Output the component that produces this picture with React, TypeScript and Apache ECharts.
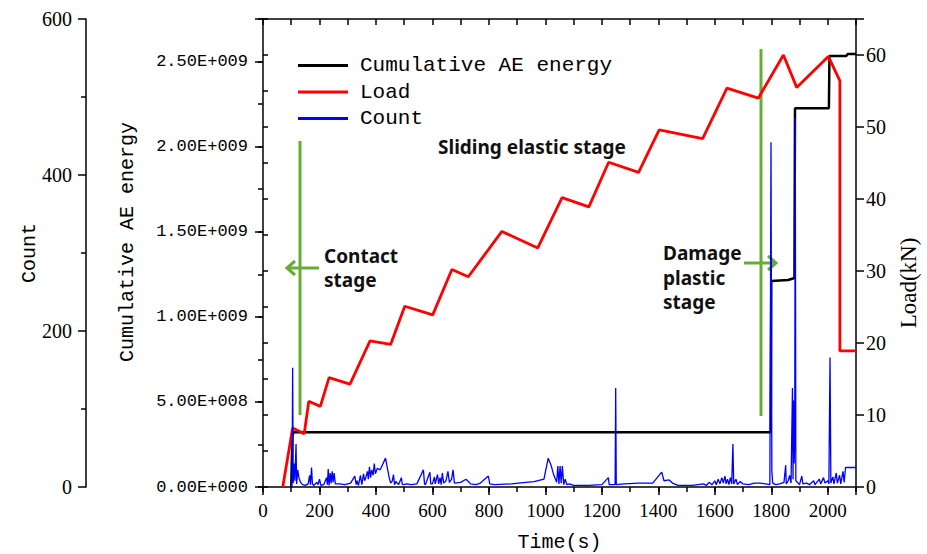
import React, { useEffect, useRef } from 'react';
import * as echarts from 'echarts';

// Load (kN) vs time (s)
const loadTime = [70, 105, 146, 162, 203, 234, 308, 379, 452, 502, 601, 669, 727, 846, 973, 1059, 1154, 1224, 1330, 1403, 1557, 1643, 1754, 1843, 1890, 2002, 2043, 2043, 2100];
const loadKN = [0, 8.2, 7.4, 11.9, 11.2, 15.2, 14.3, 20.3, 19.8, 25.1, 23.9, 30.2, 29.2, 35.5, 33.2, 40.2, 38.9, 45.1, 43.7, 49.6, 48.4, 55.4, 54.0, 60.0, 55.5, 59.8, 56.4, 18.9, 18.9];

// Cumulative AE energy vs time
const energyTime = [100, 104, 108, 1798, 1800, 1860, 1882, 1884, 2004, 2006, 2066, 2070, 2100];
const energyValue = [0, 3.0e8, 3.21e8, 3.21e8, 1.21e9, 1.216e9, 1.228e9, 2.225e9, 2.225e9, 2.533e9, 2.533e9, 2.544e9, 2.544e9];

// AE count vs time
const countTime = [100, 103, 105, 107, 110, 113, 117, 119, 123, 127, 133, 140, 150, 160, 165, 168, 172, 175, 180, 190, 195, 200, 205, 215, 225, 228, 231, 234, 238, 241, 245, 248, 252, 256, 270, 290, 310, 325, 330, 333, 338, 345, 350, 356, 360, 364, 370, 373, 377, 381, 385, 390, 394, 398, 405, 415, 434, 440, 447, 452, 458, 462, 466, 470, 480, 490, 493, 497, 510, 525, 545, 568, 572, 575, 591, 594, 600, 607, 610, 618, 622, 627, 631, 635, 640, 648, 655, 660, 668, 673, 678, 700, 719, 735, 755, 770, 798, 803, 820, 880, 930, 960, 995, 1010, 1020, 1030, 1040, 1044, 1048, 1052, 1056, 1060, 1065, 1070, 1076, 1085, 1100, 1150, 1200, 1223, 1226, 1247, 1249, 1251, 1280, 1330, 1380, 1412, 1420, 1438, 1450, 1470, 1520, 1540, 1560, 1570, 1580, 1590, 1600, 1605, 1612, 1618, 1625, 1630, 1636, 1640, 1645, 1650, 1655, 1660, 1664, 1667, 1675, 1680, 1690, 1700, 1720, 1740, 1760, 1780, 1795, 1799, 1802, 1805, 1815, 1830, 1845, 1851, 1853, 1860, 1865, 1870, 1875, 1877, 1879, 1881, 1883, 1885, 1887, 1895, 1900, 1908, 1912, 1925, 1935, 1950, 1955, 1970, 1975, 1985, 1990, 2000, 2004, 2008, 2011, 2018, 2022, 2030, 2034, 2042, 2046, 2054, 2058, 2063, 2100];
const countValue = [0, 10, 153, 5, 30, 8, 55, 4, 22, 12, 6, 3, 2, 4, 15, 3, 25, 4, 2, 6, 3, 10, 2, 3, 12, 3, 23, 2, 18, 5, 20, 6, 18, 4, 4, 3, 5, 14, 3, 8, 2, 15, 3, 17, 8, 12, 20, 10, 26, 12, 22, 15, 30, 17, 24, 22, 37, 25, 12, 5, 8, 16, 3, 7, 3, 12, 4, 3, 4, 3, 4, 22, 4, 3, 19, 4, 4, 13, 4, 16, 4, 12, 3, 18, 5, 8, 20, 6, 10, 22, 5, 6, 10, 4, 3, 5, 14, 4, 3, 4, 6, 7, 10, 37, 28, 15, 6, 27, 4, 27, 5, 27, 3, 10, 3, 4, 2, 2, 3, 12, 3, 3, 127, 3, 4, 5, 5, 19, 8, 9, 5, 2, 2, 3, 4, 2, 6, 3, 8, 3, 10, 4, 12, 5, 14, 4, 10, 3, 12, 4, 55, 4, 10, 3, 7, 4, 3, 5, 5, 4, 3, 442, 20, 5, 3, 4, 6, 28, 4, 8, 15, 5, 127, 10, 111, 30, 60, 473, 8, 5, 3, 14, 4, 5, 3, 8, 3, 10, 4, 12, 5, 8, 4, 166, 5, 13, 4, 18, 5, 15, 4, 20, 6, 25, 25];

// Tick labels
const energyTickLabels = ['0.00E+000', '5.00E+008', '1.00E+009', '1.50E+009', '2.00E+009', '2.50E+009'];
const timeTickLabels = ['0', '200', '400', '600', '800', '1000', '1200', '1400', '1600', '1800', '2000'];

const MONO = "'Liberation Mono', 'DejaVu Sans Mono', monospace";
const SERIF = "'Liberation Serif', 'DejaVu Serif', serif";
const BOLD = "bold 19px 'Noto Sans', 'Open Sans', sans-serif";
const GREEN = '#66ad35';

const zip = (a: number[], b: number[]) => a.map((v, i) => [v, b[i]]);

export default function App() {
  const ref = useRef<HTMLDivElement>(null);
  useEffect(() => {
    document.body.style.margin = '0';
    const chart = echarts.init(ref.current!, null, { renderer: 'svg' });
    const black = { color: '#000', width: 1.5 };
    const line = { show: true, onZero: false, lineStyle: black };
    const option: any = {
      animation: false,
      backgroundColor: '#fff',
      grid: { left: 263, right: 71, top: 19, bottom: 67, containLabel: false, outerBoundsMode: 'none' },
      legend: {
        data: ['Cumulative AE energy', 'Load', 'Count'],
        orient: 'vertical',
        left: 298,
        top: 55,
        padding: 0,
        itemWidth: 50,
        itemHeight: 3,
        itemGap: 5.5,
        icon: 'rect',
        selectedMode: false,
        textStyle: { fontFamily: MONO, fontSize: 21, color: '#000', lineHeight: 21, padding: [0, 0, 0, 7] },
      },
      xAxis: [
        {
          type: 'value', position: 'bottom', min: 0, max: 2100, interval: 200,
          name: 'Time(s)', nameLocation: 'middle', nameGap: 45,
          nameTextStyle: { fontFamily: MONO, fontSize: 20, color: '#000' },
          axisLine: line,
          axisTick: { show: true, inside: false, length: 8, lineStyle: black },
          axisLabel: {
            fontFamily: SERIF, fontSize: 19, color: '#000', margin: 14,
            formatter: (v: number) => (v % 200 === 0 && v / 200 < timeTickLabels.length ? timeTickLabels[v / 200] : ''),
          },
          splitLine: { show: false },
        },
        {
          type: 'value', position: 'bottom', min: 0, max: 2100, interval: 100,
          axisLine: { show: false }, axisLabel: { show: false },
          axisTick: { show: true, inside: false, length: 5, lineStyle: black },
          splitLine: { show: false },
        },
        {
          type: 'value', position: 'top', min: 0, max: 2100, interval: 100,
          axisLine: line, axisLabel: { show: false },
          axisTick: { show: true, inside: true, length: 6, lineStyle: black },
          splitLine: { show: false },
        },
      ],
      yAxis: [
        {
          type: 'value', position: 'left', offset: 177, min: 0, max: 600, interval: 200,
          name: 'Count', nameLocation: 'middle', nameGap: 47, nameMoveOverlap: false,
          nameTextStyle: { fontFamily: MONO, fontSize: 20, color: '#000' },
          axisLine: line,
          axisTick: { show: true, inside: false, length: 8, lineStyle: black },
          minorTick: { show: true, splitNumber: 2, length: 5, lineStyle: black },
          axisLabel: { fontFamily: SERIF, fontSize: 20, color: '#000', margin: 14 },
          splitLine: { show: false }, minorSplitLine: { show: false },
        },
        {
          type: 'value', position: 'left', offset: 0, min: 0, max: 2.75e9, interval: 5e8,
          name: 'Cumulative AE energy', nameLocation: 'middle', nameGap: 126,
          nameTextStyle: { fontFamily: MONO, fontSize: 20, color: '#000', padding: [0, 0, 0, 22] },
          axisLine: line,
          axisTick: { show: true, inside: false, length: 8, lineStyle: black },
          axisLabel: {
            fontFamily: MONO, fontSize: 17, color: '#000', margin: 15,
            formatter: (v: number) => {
              const i = Math.round(v / 5e8);
              return Math.abs(v - i * 5e8) < 1 && i < energyTickLabels.length ? energyTickLabels[i] : '';
            },
          },
          splitLine: { show: false },
        },
        {
          type: 'value', position: 'right', offset: 0, min: 0, max: 65, interval: 10,
          name: 'Load(kN)', nameLocation: 'middle', nameGap: 38,
          nameTextStyle: { fontFamily: SERIF, fontSize: 23, color: '#000', padding: [0, 60, 0, 0] },
          axisLine: line,
          axisTick: { show: true, inside: false, length: 8, lineStyle: black },
          axisLabel: {
            fontFamily: SERIF, fontSize: 20, color: '#000', margin: 10,
            formatter: (v: number) => (v % 10 === 0 ? String(v) : ''),
          },
          splitLine: { show: false },
        },
        {
          type: 'value', position: 'left', offset: 0, min: 0, max: 2.75e9, interval: 2.5e8,
          axisLine: { show: false }, axisLabel: { show: false },
          axisTick: { show: true, inside: false, length: 5, lineStyle: black },
          splitLine: { show: false },
        },
        {
          type: 'value', position: 'right', offset: 0, min: 0, max: 65, interval: 5,
          axisLine: { show: false }, axisLabel: { show: false },
          axisTick: { show: true, inside: false, length: 5, lineStyle: black },
          splitLine: { show: false },
        },
      ],
      series: [
        {
          name: 'Cumulative AE energy', type: 'line', xAxisIndex: 0, yAxisIndex: 1,
          color: '#000', showSymbol: false, symbol: 'none',
          lineStyle: { color: '#000', width: 2.5 },
          data: zip(energyTime, energyValue), z: 3,
        },
        {
          name: 'Load', type: 'line', xAxisIndex: 0, yAxisIndex: 2,
          color: '#ff0000', showSymbol: false, symbol: 'none',
          lineStyle: { color: '#ff0000', width: 2.8 },
          data: zip(loadTime, loadKN), z: 4,
        },
        {
          name: 'Count', type: 'line', xAxisIndex: 0, yAxisIndex: 0,
          color: '#0000ff', showSymbol: false, symbol: 'none',
          lineStyle: { color: '#0000ff', width: 1.3 },
          data: zip(countTime, countValue), z: 5,
        },
      ],
      graphic: [
        { type: 'line', shape: { x1: 300, y1: 141, x2: 300, y2: 415 }, style: { stroke: GREEN, lineWidth: 3 } },
        { type: 'line', shape: { x1: 761, y1: 49, x2: 761, y2: 416 }, style: { stroke: GREEN, lineWidth: 3 } },
        { type: 'line', shape: { x1: 319, y1: 268, x2: 288, y2: 268 }, style: { stroke: GREEN, lineWidth: 3 } },
        { type: 'polyline', shape: { points: [[295, 261], [287, 268], [295, 275]] }, style: { stroke: GREEN, lineWidth: 3, fill: null } },
        { type: 'line', shape: { x1: 744, y1: 263, x2: 775, y2: 263 }, style: { stroke: GREEN, lineWidth: 3 } },
        { type: 'polyline', shape: { points: [[768, 256], [776, 263], [768, 270]] }, style: { stroke: GREEN, lineWidth: 3, fill: null } },
        { type: 'text', x: 324, y: 256, style: { text: 'Contact', font: BOLD, fill: '#111', align: 'left', verticalAlign: 'middle' } },
        { type: 'text', x: 324, y: 280, style: { text: 'stage', font: BOLD, fill: '#111', align: 'left', verticalAlign: 'middle' } },
        { type: 'text', x: 438, y: 147, style: { text: 'Sliding elastic stage', font: BOLD, fill: '#111', align: 'left', verticalAlign: 'middle' } },
        { type: 'text', x: 663, y: 253, style: { text: 'Damage', font: BOLD, fill: '#111', align: 'left', verticalAlign: 'middle' } },
        { type: 'text', x: 663, y: 278, style: { text: 'plastic', font: BOLD, fill: '#111', align: 'left', verticalAlign: 'middle' } },
        { type: 'text', x: 663, y: 302, style: { text: 'stage', font: BOLD, fill: '#111', align: 'left', verticalAlign: 'middle' } },
      ],
    };
    chart.setOption(option);
    return () => chart.dispose();
  }, []);
  return <div ref={ref} style={{ width: 927, height: 554, position: 'absolute', left: 0, top: 0 }} />;
}
